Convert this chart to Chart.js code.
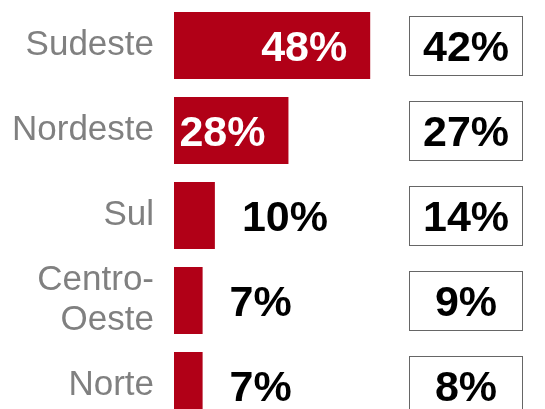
<!DOCTYPE html>
<html><head><meta charset="utf-8">
<script src="https://cdn.jsdelivr.net/npm/chart.js@4/dist/chart.umd.min.js"></script>
<style>
html,body{margin:0;padding:0;overflow:hidden;background:#fff;}
#wrap{position:relative;width:545px;height:430px;}
</style></head><body>
<div id="wrap"><canvas id="c"></canvas></div>
<script>
const categories = ['Sudeste', 'Nordeste', 'Sul', ['Centro-', 'Oeste'], 'Norte'];
const barShare = [48, 28, 10, 7, 7];      // red bars
const boxShare = [42, 27, 14, 9, 8];      // boxed comparison values
const valueSuffix = '%';

const FONT = "'Liberation Sans', Arial, Helvetica, sans-serif";
const RED = '#b10017';
const BOLD_SIZE = 43;

const labelPlugin = {
  id: 'valueLabels',
  afterDatasetsDraw(chart) {
    const ctx = chart.ctx;
    const meta = chart.getDatasetMeta(0);
    const yScale = chart.scales.y;
    const capHalf = BOLD_SIZE * 0.716 / 2;
    ctx.save();
    ctx.font = 'bold ' + BOLD_SIZE + 'px ' + FONT;
    ctx.textBaseline = 'alphabetic';
    meta.data.forEach((bar, i) => {
      const v = barShare[i];
      const txt = v + valueSuffix;
      const y = bar.y + capHalf;
      if (v >= 20) {
        ctx.fillStyle = '#fff'; ctx.textAlign = 'right';
        ctx.fillText(txt, bar.x - 23, y);
      } else {
        ctx.fillStyle = '#000'; ctx.textAlign = 'left';
        ctx.fillText(txt, bar.x + 27, y);
      }
    });
    const boxL = 409.5, boxW = 113, boxH = 59;
    boxShare.forEach((v, i) => {
      const cy = yScale.getPixelForValue(i);
      const top = Math.round(cy - boxH / 2) + 0.5;
      ctx.fillStyle = '#fff';
      ctx.fillRect(boxL, top, boxW, boxH);
      ctx.strokeStyle = '#666';
      ctx.lineWidth = 1;
      ctx.strokeRect(boxL, top, boxW, boxH);
      ctx.fillStyle = '#000';
      ctx.textAlign = 'center';
      ctx.fillText(v + valueSuffix, boxL + boxW / 2, cy + capHalf);
    });
    ctx.restore();
  }
};

new Chart(document.getElementById('c'), {
  type: 'bar',
  data: {
    labels: categories,
    datasets: [{
      data: barShare,
      backgroundColor: RED,
      barPercentage: 0.788,
      categoryPercentage: 1
    }]
  },
  options: {
    indexAxis: 'y',
    responsive: true,
    maintainAspectRatio: false,
    animation: false,
    layout: { padding: { top: 3, bottom: 2, left: 0, right: 44 } },
    plugins: { legend: { display: false }, tooltip: { enabled: false } },
    scales: {
      x: { display: false, min: 0, max: 80 },
      y: {
        grid: { display: false, drawTicks: false },
        border: { display: false },
        ticks: { color: '#808080', font: { family: FONT, size: 35, lineHeight: 1.15 }, padding: 20 },
        afterFit(s) { s.width = 174; s.paddingTop = 0; s.paddingBottom = 0; }
      }
    }
  },
  plugins: [labelPlugin]
});
</script>
</body></html>
